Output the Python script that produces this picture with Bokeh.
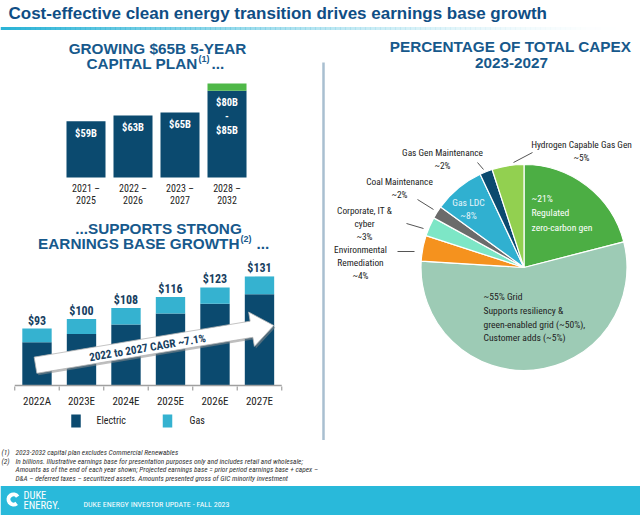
import numpy as np
from bokeh.plotting import figure
from bokeh.models import Range1d
from bokeh.layouts import column, row
from bokeh.embed import file_html
from bokeh.resources import INLINE
from bokeh.core.properties import value

# ---------------- data ----------------
cap_periods = ["2021 –\n2025", "2022 –\n2026", "2023 –\n2027", "2028 –\n2032"]
cap_low = [59, 63, 65, 80]
cap_high = [59, 63, 65, 85]
cap_labels = ["$59B", "$63B", "$65B", "$80B\n-\n$85B"]

earn_years = ["2022A", "2023E", "2024E", "2025E", "2026E", "2027E"]
earn_electric = [83, 89, 96, 104, 111, 118]
earn_gas = [10, 11, 12, 12, 12, 13]

capex_segments = ["Regulated zero-carbon gen", "Grid", "Environmental Remediation",
                  "Corporate, IT & cyber", "Coal Maintenance", "Gas LDC",
                  "Gas Gen Maintenance", "Hydrogen Capable Gas Gen"]
capex_pct = [21, 55, 4, 3, 2, 8, 2, 5]

# ---------------- styles ----------------
NARROW = "Liberation Sans Narrow, Arial Narrow, Roboto Condensed, DejaVu Sans Condensed, Liberation Sans"
SANS = "Liberation Sans"
NAVY = "#0b4a6f"
GAS = "#35b2d0"
HEAD = "#17598c"
TXT = "#222222"
CAP_BASE = 20.2
EARN_BASE = 51.4


def mk(w, h, xr, yr):
    p = figure(width=w, height=h, x_range=Range1d(*xr), y_range=Range1d(*yr),
               output_backend="svg", toolbar_location=None,
               x_axis_location=None, y_axis_location=None,
               min_border=0, min_border_left=0, min_border_right=0,
               min_border_top=0, min_border_bottom=0)
    p.xgrid.visible = False
    p.ygrid.visible = False
    p.outline_line_color = None
    p.background_fill_color = "white"
    p.border_fill_color = "white"
    return p


def txt(p, x, y, s, size, color, font=NARROW, style="normal", align="center",
        baseline="middle", **kw):
    p.text(x=[x], y=[y], text=[s], text_font=value(font), text_font_size=f"{size}px",
           text_font_style=style, text_color=color, text_align=align,
           text_baseline=baseline, **kw)


# ---------------- title ----------------
tp = mk(640, 38, (0, 640), (38, 0))
txt(tp, 8, 13, "Cost-effective clean energy transition drives earnings base growth",
    17, "#0f4e85", font=SANS, style="bold", align="left")
gx = np.linspace(0, 620, 125)
ga = np.clip(1 - gx / 620, 0, 1) ** 1.5
tp.quad(left=gx[:-1], right=gx[1:] + 0.5, top=26.5, bottom=29.5, fill_color="#2bb3d6",
        fill_alpha=ga[:-1], line_color=None)

# ---------------- capital plan ----------------
cp = mk(320, 172, (0, 320), (210, 38))
cp.extra_x_ranges = {"cx": Range1d(-1.819, 4.989)}
cp.extra_y_ranges = {"cy": Range1d(-2.6, 116.1)}
ci = list(range(len(cap_periods)))
cp.vbar(x=ci, width=0.83, bottom=CAP_BASE, top=cap_low, fill_color=NAVY,
        line_color=None, x_range_name="cx", y_range_name="cy")
cp.vbar(x=ci, width=0.83, bottom=cap_low, top=cap_high, fill_color="#4fb848",
        line_color=None, x_range_name="cx", y_range_name="cy")
cp.text(x=ci, y=cap_low, text=cap_labels, text_font=value(NARROW), text_font_size="10.5px",
        text_font_style="bold", text_color="white", text_align="center",
        text_baseline="top", y_offset=5.5, text_line_height=1.05,
        x_range_name="cx", y_range_name="cy")
cp.text(x=ci, y=[CAP_BASE] * len(ci), text=cap_periods, text_font=value(NARROW),
        text_font_size="10px", text_color=TXT, text_align="center", text_baseline="top",
        y_offset=5.5, text_line_height=1.1, x_range_name="cx", y_range_name="cy")
txt(cp, 157, 48, "GROWING $65B 5-YEAR", 15.3, HEAD, font=SANS, style="bold")
txt(cp, 197, 63, "CAPITAL PLAN", 15.3, HEAD, font=SANS, style="bold", align="right")
txt(cp, 198, 58, "(1)", 9, HEAD, font=SANS, style="bold", align="left")
txt(cp, 211, 63, "...", 15.3, HEAD, font=SANS, style="bold", align="left")

# ---------------- earnings base ----------------
ep = mk(320, 230, (0, 320), (440, 210))
ep.extra_x_ranges = {"ex": Range1d(-0.820, 6.371)}
ep.extra_y_ranges = {"ey": Range1d(11.3, 179.1)}
ei = list(range(len(earn_years)))
earn_total = [e + g for e, g in zip(earn_electric, earn_gas)]
ep.vbar(x=ei, width=0.66, bottom=EARN_BASE, top=earn_electric, fill_color=NAVY,
        line_color=None, x_range_name="ex", y_range_name="ey")
ep.vbar(x=ei, width=0.66, bottom=earn_electric, top=earn_total, fill_color=GAS,
        line_color=None, x_range_name="ex", y_range_name="ey")
ep.text(x=ei, y=earn_total, text=[f"${v}" for v in earn_total], text_font=value(NARROW),
        text_font_size="12px", text_font_style="bold", text_color="#17405f",
        text_align="center", text_baseline="bottom", y_offset=-1,
        x_range_name="ex", y_range_name="ey")
ep.segment(x0=[-0.5], y0=[EARN_BASE], x1=[len(ei) - 0.5], y1=[EARN_BASE],
           line_color="#a0a0a0", line_width=1.5, x_range_name="ex", y_range_name="ey")
bnd = [i - 0.5 for i in range(len(ei) + 1)]
ep.segment(x0=bnd, y0=386, x1=bnd, y1=390, line_color="#a0a0a0", line_width=1.2,
           x_range_name="ex")
ep.text(x=ei, y=[EARN_BASE] * len(ei), text=earn_years, text_font=value(NARROW),
        text_font_size="11px", text_color=TXT, text_align="center",
        text_baseline="top", y_offset=9.5, x_range_name="ex", y_range_name="ey")
# arrow
tail = np.array([35.0, 364.7])
tip = np.array([273.3, 325.0])
u = (tip - tail) / np.linalg.norm(tip - tail)
nrm = np.array([-u[1], u[0]])
hb = tip - u * 22.6
pts = [tail + nrm * 8.2, hb + nrm * 8.2, hb + nrm * 17.4, tip, hb - nrm * 17.4,
       hb - nrm * 8.2, tail - nrm * 8.2]
ax = [q[0] for q in pts]
ay = [q[1] for q in pts]
ep.patch([a + 1.5 for a in ax], [b + 2.0 for b in ay], fill_color="#8a8a8a",
         fill_alpha=0.55, line_color=None)
ep.patch(ax, ay, fill_color="white", line_color="#b5b5b5", line_width=0.8)
ang = float(np.arctan2(tail[1] - tip[1], tip[0] - tail[0]))
txt(ep, 147, 347.5, "2022 to 2027 CAGR ~7.1%", 11.2, "#17405f", style="bold", angle=ang)
# titles
txt(ep, 158, 228, "...SUPPORTS STRONG", 15.3, HEAD, font=SANS, style="bold")
txt(ep, 239, 243, "EARNINGS BASE GROWTH", 15.3, HEAD, font=SANS, style="bold", align="right")
txt(ep, 240, 238, "(2)", 9, HEAD, font=SANS, style="bold", align="left")
txt(ep, 256, 243, "...", 15.3, HEAD, font=SANS, style="bold", align="left")
# legend
ep.rect(x=[75.5, 167], y=[420.5, 420.5], width=9.5, height=13, fill_color=[NAVY, GAS],
        line_color=None)
txt(ep, 96, 420, "Electric", 10, TXT, align="left")
txt(ep, 189, 420, "Gas", 10, TXT, align="left")

# ---------------- pie ----------------
pp = mk(320, 402, (320, 640), (-440, -38))
pp.segment(x0=[323], y0=[-62], x1=[323], y1=[-440], line_color="#a9bfd0", line_width=2.5)
txt(pp, 510, -46, "PERCENTAGE OF TOTAL CAPEX", 15.3, HEAD, font=SANS, style="bold")
txt(pp, 511, -62, "2023-2027", 15.3, HEAD, font=SANS, style="bold")
pie_colors = ["#4cae44", "#9dcbb5", "#f5921e", "#7de6c6", "#6b6b6b", "#30b0d0",
              NAVY, "#92d050"]
cum = np.concatenate([[0], np.cumsum(capex_pct)]) / sum(capex_pct)
starts = np.pi / 2 - cum[:-1] * 2 * np.pi
ends = np.pi / 2 - cum[1:] * 2 * np.pi
pp.wedge(x=523.5, y=-267, radius=103, start_angle=starts, end_angle=ends,
         direction="clock", fill_color=pie_colors, line_color="white", line_width=1.2)
# inside labels
pp.text(x=[531], y=[-192.5], text=[f"~{capex_pct[0]}%\nRegulated\nzero-carbon gen"],
        text_font=value(NARROW), text_font_size="9.6px", text_color="white",
        text_align="left", text_baseline="top", text_line_height=1.3)
pp.text(x=[483], y=[-290.5],
        text=[f"~{capex_pct[1]}% Grid\nSupports resiliency &\ngreen-enabled grid (~50%),\nCustomer adds (~5%)"],
        text_font=value(NARROW), text_font_size="9.6px", text_color=TXT,
        text_align="left", text_baseline="top", text_line_height=1.25)
pp.text(x=[468], y=[-196], text=[f"Gas LDC\n~{capex_pct[5]}%"], text_font=value(NARROW),
        text_font_size="9.6px", text_color="#e6f4fa", text_align="center",
        text_baseline="top", text_line_height=1.2)
# outside labels
outs = [
    (581, -138, f"Hydrogen Capable Gas Gen\n~{capex_pct[7]}%"),
    (442, -146, f"Gas Gen Maintenance\n~{capex_pct[6]}%"),
    (399, -175, f"Coal Maintenance\n~{capex_pct[4]}%"),
    (364, -204, f"Corporate, IT &\ncyber\n~{capex_pct[3]}%"),
    (360, -243, f"Environmental\nRemediation\n~{capex_pct[2]}%"),
]
for x, y, s in outs:
    pp.text(x=[x], y=[y], text=[s], text_font=value(NARROW), text_font_size="9.4px",
            text_color=TXT, text_align="center", text_baseline="top", text_line_height=1.22)
pp.segment(x0=[513, 477, 417, 406, 397], y0=[-162, -162, -199, -223, -251],
           x1=[532, 483, 433, 423, 414], y1=[-152, -169, -209, -228, -251],
           line_color="#555555", line_width=1)

# ---------------- footer ----------------
fp = mk(640, 75, (0, 640), (515, 440))
notes = [
    ("(1)", "2023-2032 capital plan excludes Commercial Renewables"),
    ("(2)", "In billions. Illustrative earnings base for presentation purposes only and includes retail and wholesale;"),
    ("", "Amounts as of the end of each year shown; Projected earnings base = prior period earnings base + capex –"),
    ("", "D&A – deferred taxes – securitized assets. Amounts presented gross of GIC minority investment"),
]
for k, (m, s) in enumerate(notes):
    yy = 452 + k * 8.5
    if m:
        txt(fp, 1, yy, m, 7.4, "#333333", style="italic", align="left")
    txt(fp, 15, yy, s, 7.4, "#333333", style="italic", align="left")
fp.quad(left=[0], right=[640], top=[485.5], bottom=[515], fill_color="#29b9da",
        line_color=None)
fp.annular_wedge(x=[13], y=[499], inner_radius=3, outer_radius=7,
                 start_angle=[0.6], end_angle=[5.4], fill_color="white", line_color=None)
txt(fp, 23, 495, "DUKE", 10.5, "white", align="left")
txt(fp, 23, 505, "ENERGY.", 10.5, "white", align="left")
txt(fp, 83, 504, "DUKE ENERGY INVESTOR UPDATE - FALL 2023", 8, "white", align="left")

layout = column(tp, row(column(cp, ep), pp), fp)
open("out.html", "w").write(file_html(layout, INLINE))
